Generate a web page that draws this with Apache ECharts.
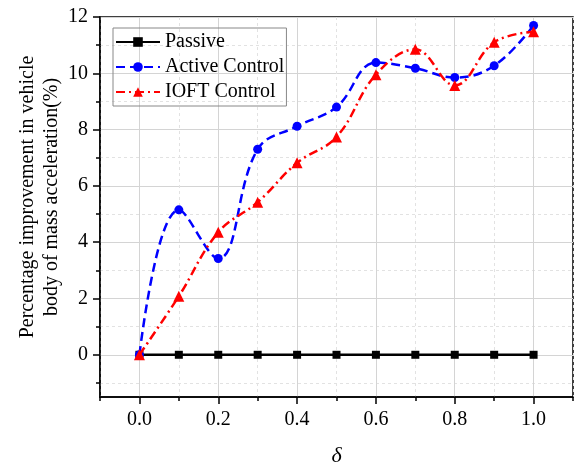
<!DOCTYPE html>
<html>
<head>
<meta charset="utf-8">
<script src="https://cdn.jsdelivr.net/npm/echarts@6/dist/echarts.min.js"></script>
<style>
  html, body { margin: 0; padding: 0; background: #fff; }
  #chart { width: 576px; height: 464px; }
</style>
</head>
<body>
<div id="chart"></div>
<script>
// data
const delta = [0.0, 0.1, 0.2, 0.3, 0.4, 0.5, 0.6, 0.7, 0.8, 0.9, 1.0];
const passive = [0, 0, 0, 0, 0, 0, 0, 0, 0, 0, 0];
const active = [0, 5.15, 3.42, 7.3, 8.12, 8.8, 10.38, 10.18, 9.85, 10.27, 11.7];
const ioft = [0, 2.08, 4.35, 5.42, 6.82, 7.74, 9.95, 10.85, 9.57, 11.1, 11.48];

const xMajor = [0, 0.2, 0.4, 0.6, 0.8, 1.0];
const xMinor = [-0.1, 0.1, 0.3, 0.5, 0.7, 0.9, 1.1];
const yMajor = [0, 2, 4, 6, 8, 10, 12];
const yMinor = [-1, 1, 3, 5, 7, 9, 11];

const font = '"Liberation Serif", "Times New Roman", serif';

const pairs = (ys) => delta.map((x, i) => [x, ys[i]]);

const chart = echarts.init(document.getElementById('chart'));

const option = {
  animation: false,
  grid: {
    left: 100, top: 17, right: 3, bottom: 67,
    outerBoundsMode: 'none',
    show: true, borderColor: '#000', borderWidth: 1.5
  },
  legend: {
    orient: 'vertical',
    left: 113, top: 28,
    padding: [4, 2, 4, 2],
    itemGap: 5,
    itemWidth: 44, itemHeight: 12,
    borderColor: '#888', borderWidth: 1,
    textStyle: { fontFamily: font, fontSize: 20, color: '#000', lineHeight: 20 },
    data: ['Passive', 'Active Control', 'IOFT Control']
  },
  xAxis: [
    {
      type: 'value', position: 'bottom',
      min: -0.1, max: 1.1,
      name: 'δ', nameLocation: 'middle', nameGap: 48, nameMoveOverlap: false,
      nameTextStyle: { fontFamily: font, fontSize: 22, fontStyle: 'italic', color: '#000' },
      axisLine: { show: true, onZero: false, lineStyle: { color: '#000', width: 1.5 } },
      axisTick: { show: true, length: 7, customValues: xMajor, lineStyle: { color: '#000', width: 1.5 } },
      axisLabel: { customValues: xMajor, fontFamily: font, fontSize: 20, color: '#000', margin: 13,
        formatter: v => v.toFixed(1) },
      splitLine: { show: true, lineStyle: { color: '#d4d4d4', width: 1 } }
    },
    {
      type: 'value', position: 'bottom',
      min: -0.1, max: 1.1,
      axisLine: { show: false, onZero: false },
      axisTick: { show: true, length: 4, customValues: xMinor, lineStyle: { color: '#000', width: 1.5 } },
      axisLabel: { show: false },
      splitLine: { show: true, lineStyle: { color: '#e2e2e2', width: 1, type: [3, 3] } }
    }
  ],
  yAxis: [
    {
      type: 'value', position: 'left',
      min: -1.5, max: 12,
      name: 'Percentage improvement in vehicle\nbody of mass acceleration(%)',
      nameLocation: 'middle', nameGap: 36, nameRotate: 90, nameMoveOverlap: false,
      nameTextStyle: { fontFamily: font, fontSize: 20, color: '#000', lineHeight: 24, padding: [0, 0, 0, 20] },
      axisLine: { show: true, onZero: false, lineStyle: { color: '#000', width: 1.5 } },
      axisTick: { show: true, length: 7, customValues: yMajor, lineStyle: { color: '#000', width: 1.5 } },
      axisLabel: { customValues: yMajor, fontFamily: font, fontSize: 20, color: '#000', margin: 12 },
      splitLine: { show: true, lineStyle: { color: '#d4d4d4', width: 1 } }
    },
    {
      type: 'value', position: 'left',
      min: -1.5, max: 12,
      axisLine: { show: false, onZero: false },
      axisTick: { show: true, length: 4, customValues: yMinor, lineStyle: { color: '#000', width: 1.5 } },
      axisLabel: { show: false },
      splitLine: { show: true, lineStyle: { color: '#e2e2e2', width: 1, type: [3, 3] } }
    }
  ],
  series: [
    {
      name: 'Passive', type: 'line',
      data: pairs(passive),
      symbol: 'rect', symbolSize: 8,
      itemStyle: { color: '#000' },
      lineStyle: { color: '#000', width: 2.5 },
      z: 3
    },
    {
      name: 'Active Control', type: 'line',
      data: pairs(active),
      smooth: 0.4,
      symbol: 'circle', symbolSize: 9,
      itemStyle: { color: '#0000ff' },
      lineStyle: { color: '#0000ff', width: 2.5, type: [9, 5] },
      z: 4
    },
    {
      name: 'IOFT Control', type: 'line',
      data: pairs(ioft),
      smooth: 0.4,
      symbol: 'triangle', symbolSize: 11,
      itemStyle: { color: '#ff0000' },
      lineStyle: { color: '#ff0000', width: 2.5, type: [9, 4, 2, 4] },
      z: 5
    }
  ]
};

option && chart.setOption(option);
</script>
</body>
</html>
